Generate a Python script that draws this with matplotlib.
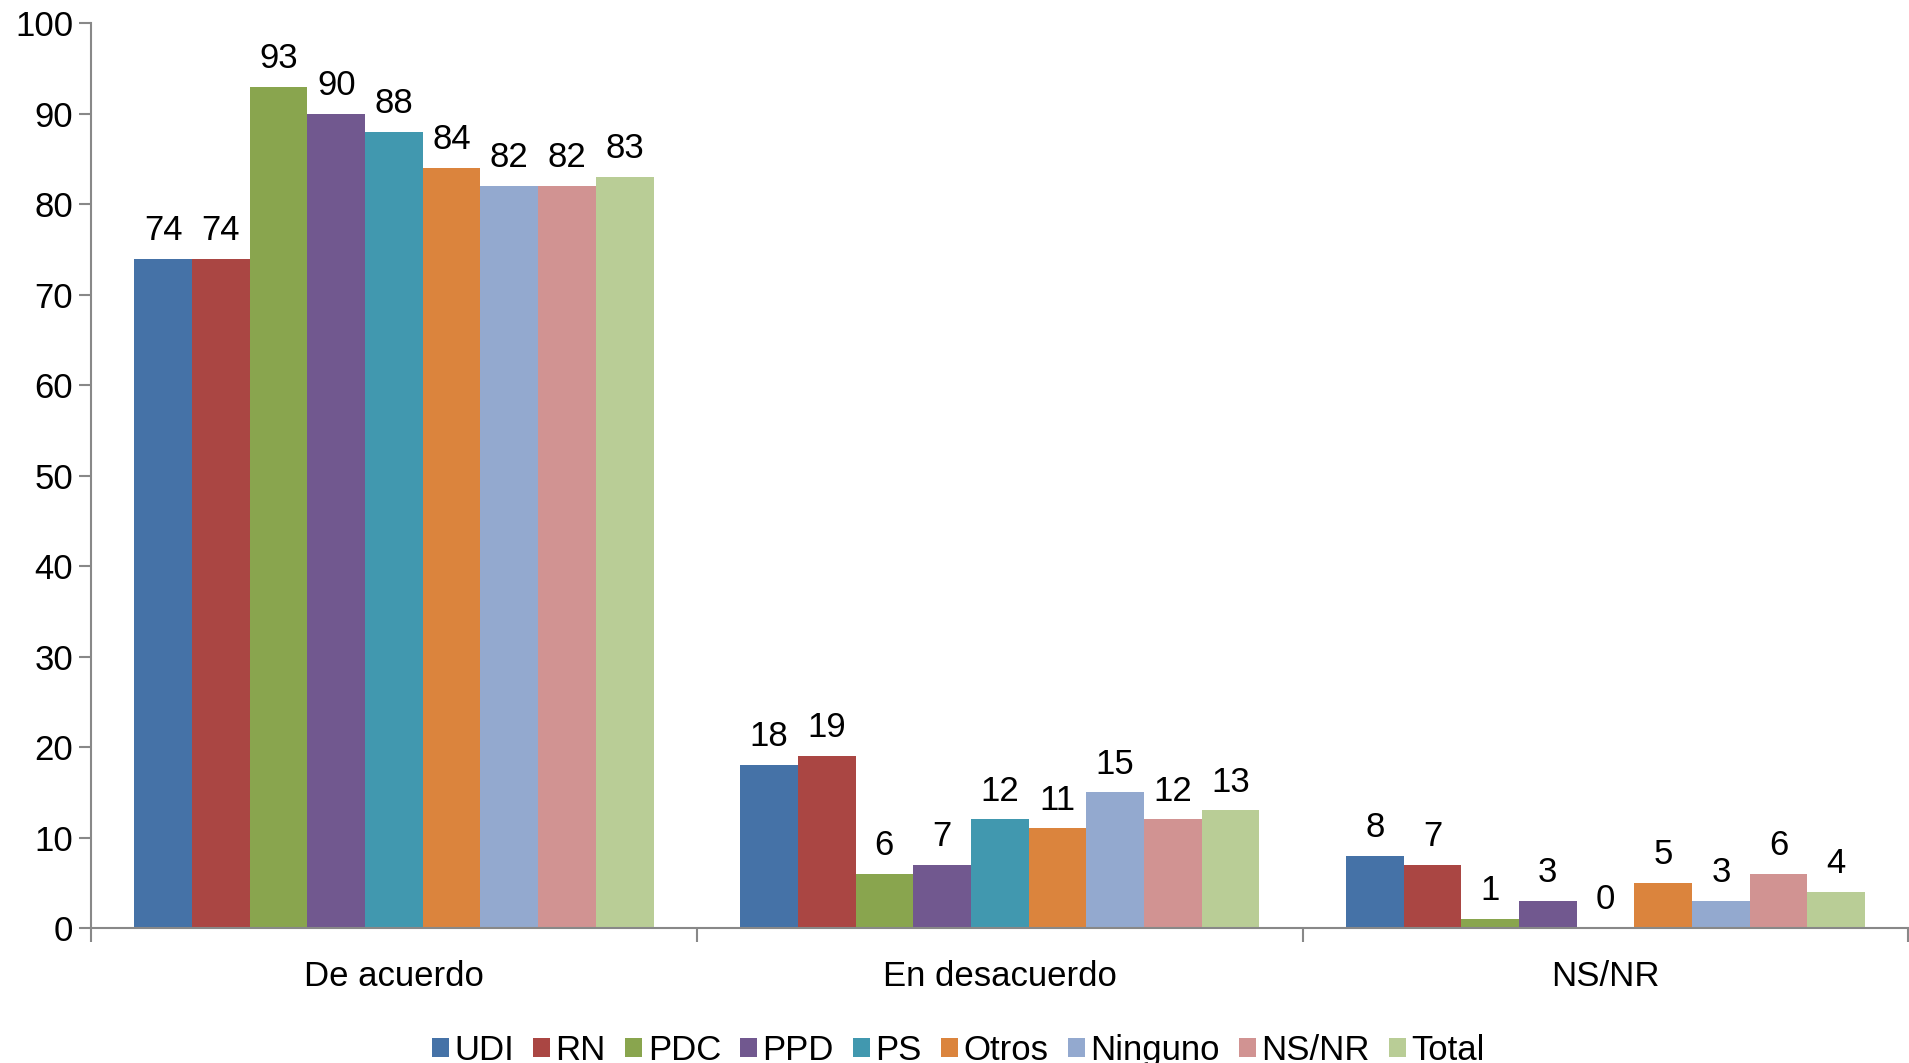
import numpy as np
import matplotlib
matplotlib.use("Agg")
import matplotlib.pyplot as plt

plt.rcParams['font.family'] = ['Liberation Sans', 'DejaVu Sans']

categories = ['De acuerdo', 'En desacuerdo', 'NS/NR']
series = ['UDI', 'RN', 'PDC', 'PPD', 'PS', 'Otros', 'Ninguno', 'NS/NR', 'Total']
values = {
    'UDI':     [74, 18, 8],
    'RN':      [74, 19, 7],
    'PDC':     [93, 6, 1],
    'PPD':     [90, 7, 3],
    'PS':      [88, 12, 0],
    'Otros':   [84, 11, 5],
    'Ninguno': [82, 15, 3],
    'NS/NR':   [82, 12, 6],
    'Total':   [83, 13, 4],
}
colors = ['#4572A7', '#AA4643', '#89A54E', '#71588F', '#4198AF',
          '#DB843D', '#93A9CF', '#D19392', '#B9CD96']

FS = 25

fig = plt.figure(figsize=(19.09, 10.63), dpi=100)
ax = fig.add_axes([0.0477, 0.127, 0.952, 0.851])

x = np.arange(len(categories))
n = len(series)
w = 1 / (n + 1.5)
for i, (name, c) in enumerate(zip(series, colors)):
    pos = x - n * w / 2 + (i + 0.5) * w
    bars = ax.bar(pos, values[name], width=w, color=c, label=name, linewidth=0)
    for b, v in zip(bars, values[name]):
        ax.text(b.get_x() + w / 2, v + 1.3, str(v), ha='center', va='bottom', fontsize=FS)

ax.set_xlim(-0.5, len(categories) - 0.5)
ax.set_ylim(0, 100)
ax.set_yticks(range(0, 101, 10))
ax.tick_params(axis='y', labelsize=FS, length=9, width=1.5, color='#888888', pad=4)

ax.set_xticks(np.arange(-0.5, len(categories), 1.0))
ax.set_xticklabels([])
ax.set_xticks(x, minor=True)
ax.set_xticklabels(categories, minor=True)
ax.tick_params(axis='x', which='major', length=10, width=1.5, color='#888888')
ax.tick_params(axis='x', which='minor', length=0, labelsize=FS, pad=23)

for s in ['top', 'right']:
    ax.spines[s].set_visible(False)
for s in ['left', 'bottom']:
    ax.spines[s].set_color('#888888')
    ax.spines[s].set_linewidth(1.5)

fig.legend(loc='center', bbox_to_anchor=(0.502, 0.012), ncol=n, frameon=False,
           fontsize=FS, handlelength=0.5, handleheight=0.5, handletextpad=0.15,
           columnspacing=0.55)

fig.savefig('out.png', dpi=100)
